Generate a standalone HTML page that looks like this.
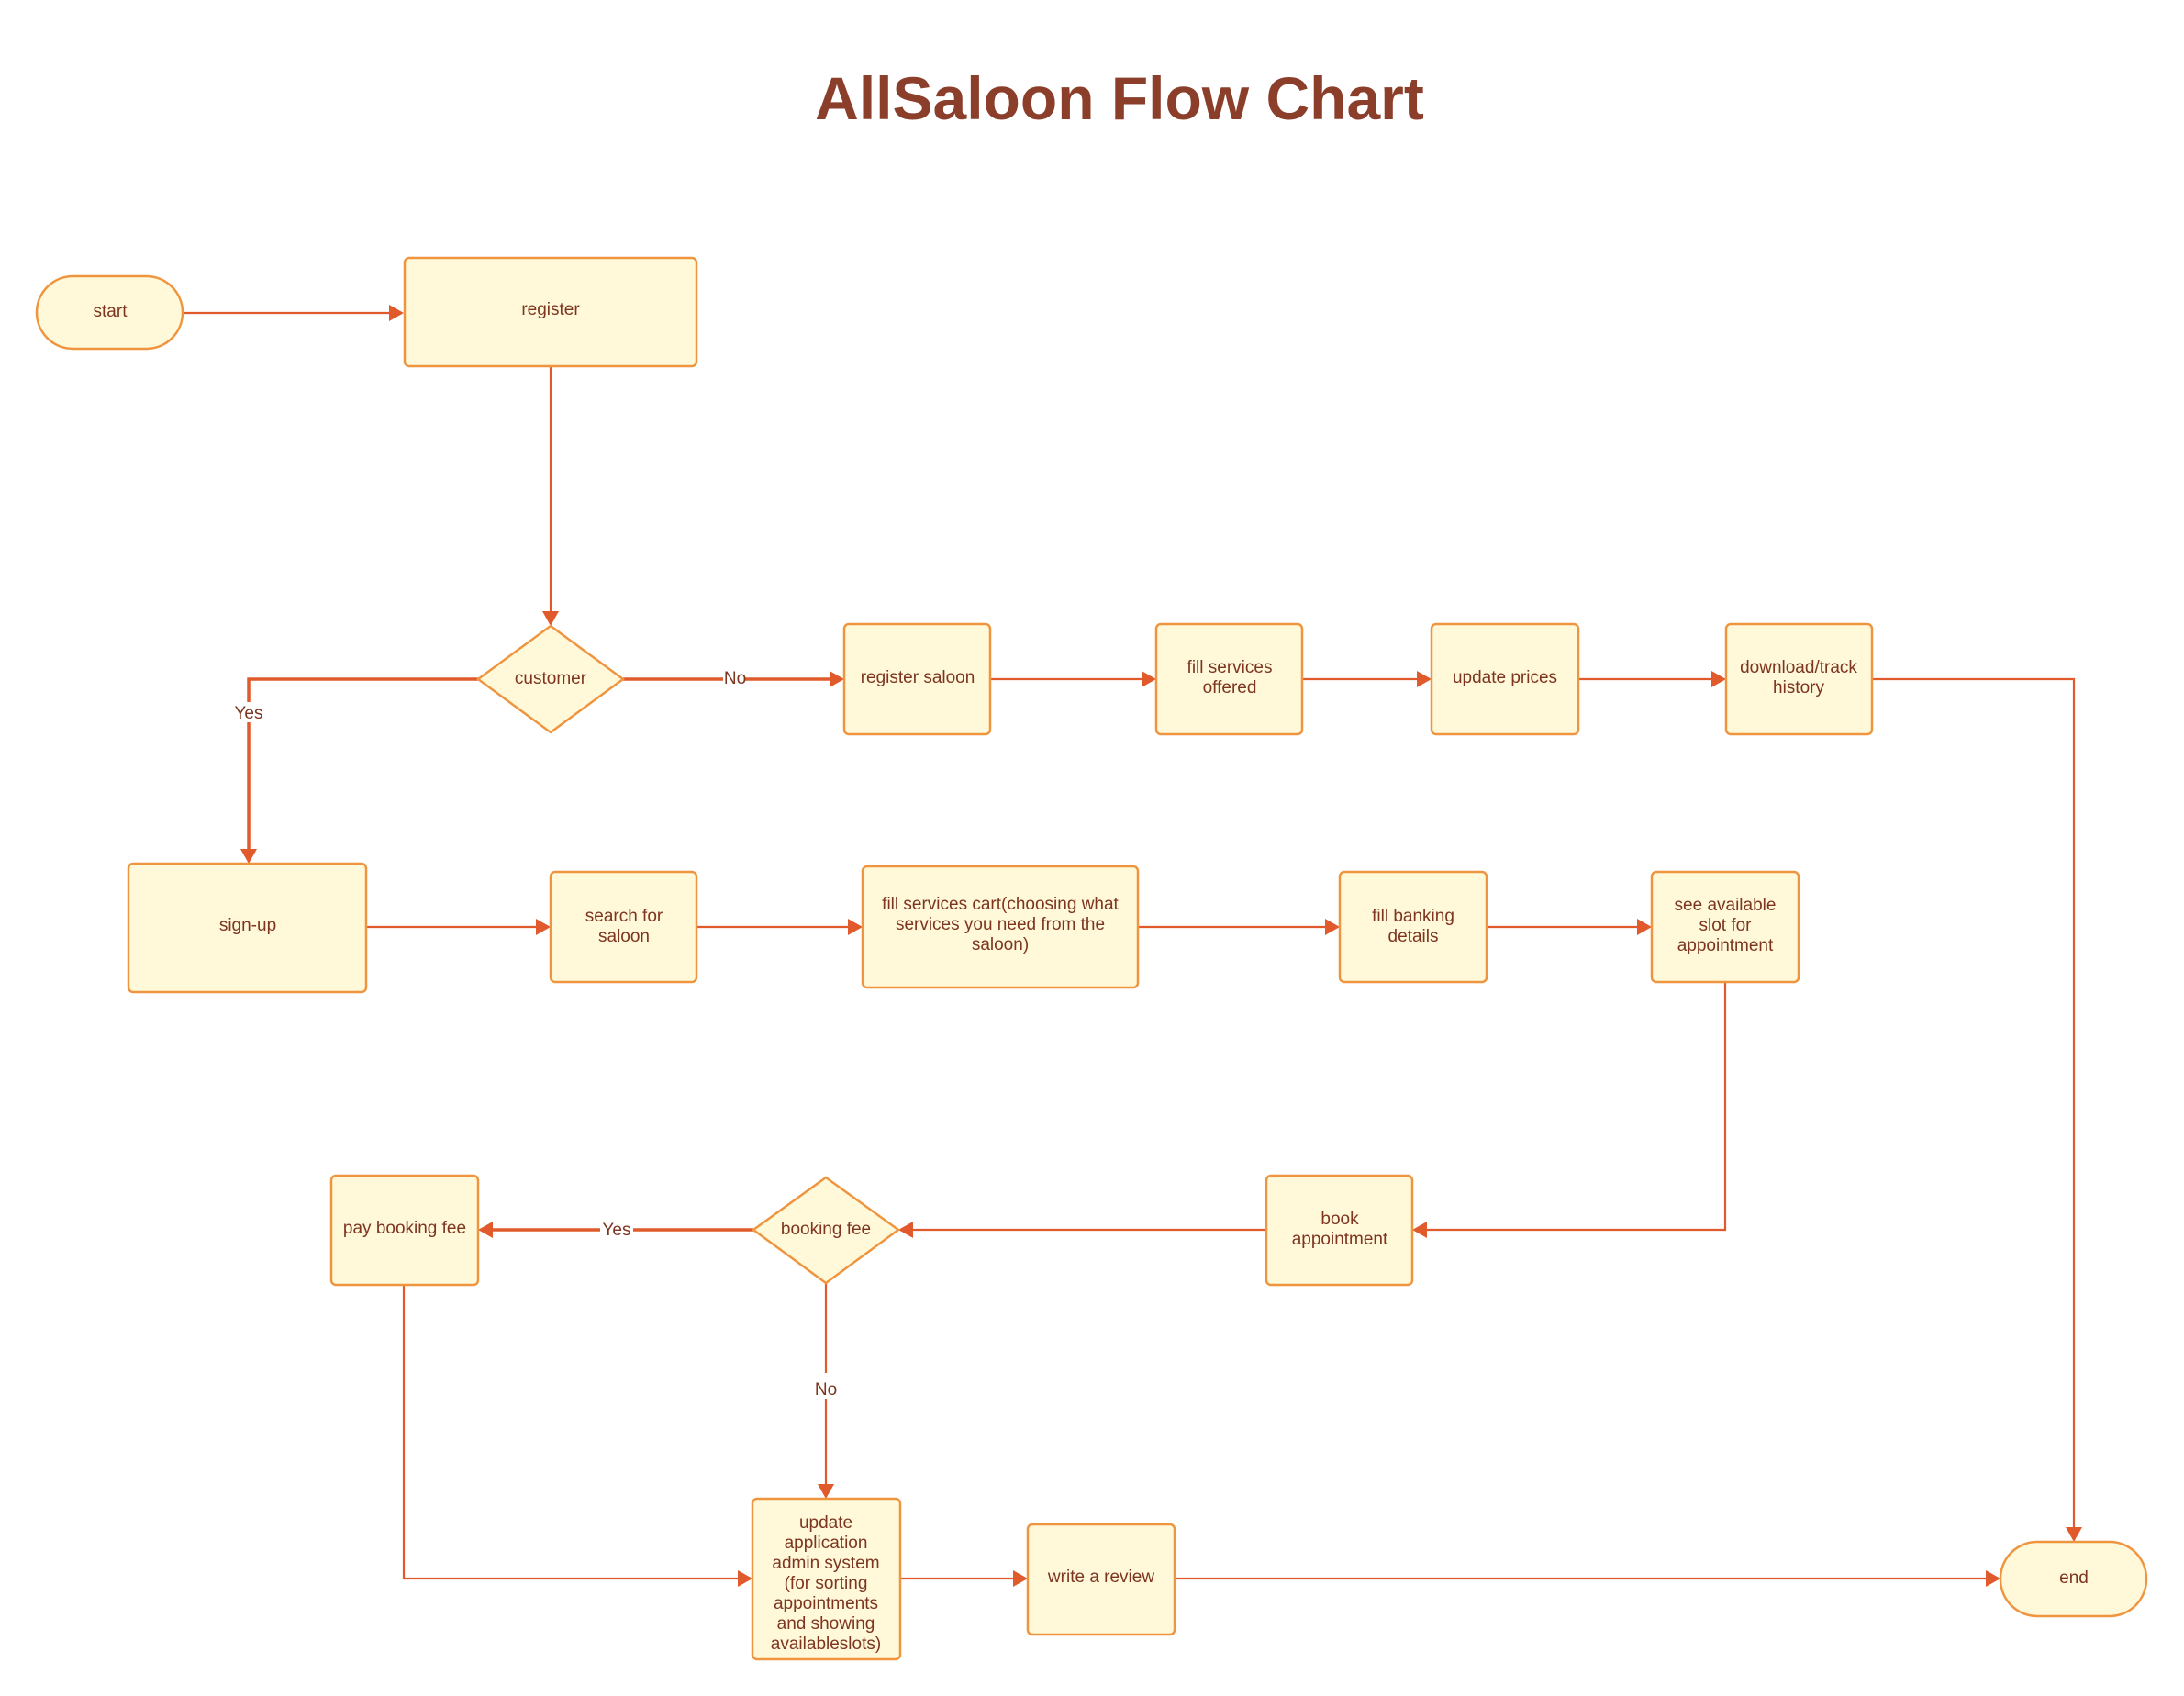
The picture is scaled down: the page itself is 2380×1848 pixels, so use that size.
<!DOCTYPE html>
<html><head><meta charset="utf-8"><style>
html,body{margin:0;padding:0;background:#fff;}
svg{display:block;}
text{font-family:"Liberation Sans",sans-serif;fill:#7d3520;font-size:19px;text-anchor:middle;}
.n{fill:#fff8d9;stroke:#f0953f;stroke-width:2.5;}
.e{stroke:#e05a2b;stroke-width:2.2;fill:none;}
.t{stroke:#e05a2b;stroke-width:3.5;fill:none;}
.a{fill:#e05a2b;}
.lb{fill:#fff;}
</style></head><body>
<svg width="2380" height="1848" viewBox="0 0 2380 1848" xmlns="http://www.w3.org/2000/svg">
<text x="1220" y="130" style="font-size:66px;font-weight:bold;fill:#8b3f2b;">AllSaloon Flow Chart</text>

<!-- edges -->
<path class="e" d="M199 341 H428"/><polygon class="a" points="440,341 424,332 424,350"/>
<path class="e" d="M600 399 V670"/><polygon class="a" points="600,682 591,666 609,666"/>
<path class="t" d="M521 740 H271 V928"/><polygon class="a" points="271,941 262,925 280,925"/>
<rect class="lb" x="252" y="765" width="38" height="22"/><text x="271" y="783">Yes</text>
<path class="t" d="M679 740 H908"/><polygon class="a" points="920,740 904,731 904,749"/>
<rect class="lb" x="788" y="728" width="24" height="22"/><text x="801" y="745">No</text>
<path class="e" d="M1079 740 H1248"/><polygon class="a" points="1260,740 1244,731 1244,749"/>
<path class="e" d="M1419 740 H1548"/><polygon class="a" points="1560,740 1544,731 1544,749"/>
<path class="e" d="M1720 740 H1869"/><polygon class="a" points="1881,740 1865,731 1865,749"/>
<path class="e" d="M2040 740 H2260 V1668"/><polygon class="a" points="2260,1680 2251,1664 2269,1664"/>

<path class="e" d="M399 1010 H588"/><polygon class="a" points="600,1010 584,1001 584,1019"/>
<path class="e" d="M759 1010 H928"/><polygon class="a" points="940,1010 924,1001 924,1019"/>
<path class="e" d="M1240 1010 H1448"/><polygon class="a" points="1460,1010 1444,1001 1444,1019"/>
<path class="e" d="M1620 1010 H1788"/><polygon class="a" points="1800,1010 1784,1001 1784,1019"/>
<path class="e" d="M1880 1070 V1340 H1551"/><polygon class="a" points="1539,1340 1555,1331 1555,1349"/>
<path class="e" d="M1380 1340 H991"/><polygon class="a" points="979,1340 995,1331 995,1349"/>
<path class="t" d="M821 1340 H533"/><polygon class="a" points="521,1340 537,1331 537,1349"/>
<rect class="lb" x="654" y="1330" width="36" height="20"/><text x="672" y="1346">Yes</text>
<path class="e" d="M900 1398 V1621"/><polygon class="a" points="900,1633 891,1617 909,1617"/>
<rect class="lb" x="888" y="1496" width="24" height="28"/><text x="900" y="1520">No</text>
<path class="e" d="M440 1400 V1720 H808"/><polygon class="a" points="820,1720 804,1711 804,1729"/>
<path class="e" d="M981 1720 H1108"/><polygon class="a" points="1120,1720 1104,1711 1104,1729"/>
<path class="e" d="M1280 1720 H2168"/><polygon class="a" points="2180,1720 2164,1711 2164,1729"/>

<!-- nodes -->
<rect class="n" x="40" y="301" width="159" height="79" rx="39.5"/><text x="120" y="345">start</text>
<rect class="n" x="441" y="281" width="318" height="118" rx="5"/><text x="600" y="343">register</text>
<polygon class="n" points="600,682 679,740 600,798 521,740"/><text x="600" y="745">customer</text>
<rect class="n" x="920" y="680" width="159" height="120" rx="5"/><text x="1000" y="744">register saloon</text>
<rect class="n" x="1260" y="680" width="159" height="120" rx="5"/><text x="1340" y="733">fill services</text><text x="1340" y="755">offered</text>
<rect class="n" x="1560" y="680" width="160" height="120" rx="5"/><text x="1640" y="744">update prices</text>
<rect class="n" x="1881" y="680" width="159" height="120" rx="5"/><text x="1960" y="733">download/track</text><text x="1960" y="755">history</text>

<rect class="n" x="140" y="941" width="259" height="140" rx="5"/><text x="270" y="1014">sign-up</text>
<rect class="n" x="600" y="950" width="159" height="120" rx="5"/><text x="680" y="1004">search for</text><text x="680" y="1026">saloon</text>
<rect class="n" x="940" y="944" width="300" height="132" rx="5"/><text x="1090" y="991">fill services cart(choosing what</text><text x="1090" y="1013">services you need from the</text><text x="1090" y="1035">saloon)</text>
<rect class="n" x="1460" y="950" width="160" height="120" rx="5"/><text x="1540" y="1004">fill banking</text><text x="1540" y="1026">details</text>
<rect class="n" x="1800" y="950" width="160" height="120" rx="5"/><text x="1880" y="992">see available</text><text x="1880" y="1014">slot for</text><text x="1880" y="1036">appointment</text>

<rect class="n" x="1380" y="1281" width="159" height="119" rx="5"/><text x="1460" y="1334">book</text><text x="1460" y="1356">appointment</text>
<polygon class="n" points="900,1283 979,1340 900,1398 821,1340"/><text x="900" y="1345">booking fee</text>
<rect class="n" x="361" y="1281" width="160" height="119" rx="5"/><text x="441" y="1344">pay booking fee</text>

<rect class="n" x="820" y="1633" width="161" height="175" rx="5"/>
<text x="900" y="1665">update</text><text x="900" y="1687">application</text><text x="900" y="1709">admin system</text><text x="900" y="1731">(for sorting</text><text x="900" y="1753">appointments</text><text x="900" y="1775">and showing</text><text x="900" y="1797">availableslots)</text>
<rect class="n" x="1120" y="1661" width="160" height="120" rx="5"/><text x="1200" y="1724">write a review</text>
<rect class="n" x="2180" y="1680" width="159" height="81" rx="40"/><text x="2260" y="1725">end</text>
</svg>
</body></html>
